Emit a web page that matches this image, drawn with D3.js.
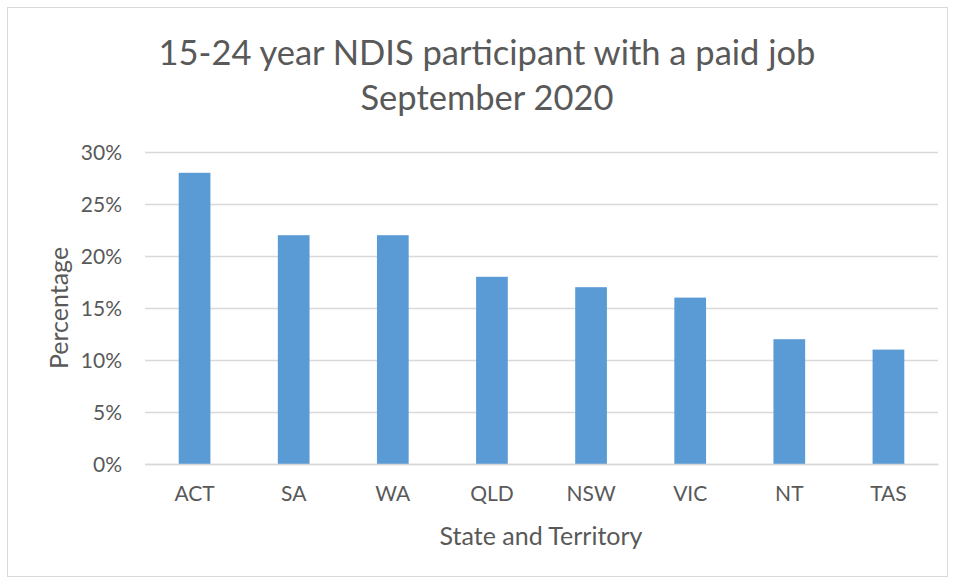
<!DOCTYPE html>
<html>
<head>
<meta charset="utf-8">
<script src="https://cdn.jsdelivr.net/npm/d3@7"></script>
<style>
  body { margin: 0; background: #fff; }
  text { font-family: Lato, "Open Sans", sans-serif; fill: #595959; }
</style>
</head>
<body>
<div id="chart"></div>
<script>
const states = ["ACT", "SA", "WA", "QLD", "NSW", "VIC", "NT", "TAS"];
const paidJob = [0.28, 0.22, 0.22, 0.18, 0.17, 0.16, 0.12, 0.11];
const yTicks = [0, 0.05, 0.10, 0.15, 0.20, 0.25, 0.30];
const titleLines = ["15-24 year NDIS participant with a paid job", "September 2020"];

const width = 955;
const height = 579;
const margin = { top: 152, right: 17, bottom: 115, left: 145 };

const svg = d3.select("#chart")
    .append("svg")
    .attr("width", width)
    .attr("height", height);

// chart frame
svg.append("rect")
    .attr("x", 7.5).attr("y", 7.5)
    .attr("width", 940).attr("height", 569)
    .attr("fill", "#fff")
    .attr("stroke", "#d9d9d9");

const x = d3.scaleBand()
    .domain(states)
    .range([margin.left, width - margin.right])
    .paddingInner(0.68)
    .paddingOuter(0.34);

const y = d3.scaleLinear()
    .domain([0, 0.30])
    .range([height - margin.bottom, margin.top]);

// gridlines
svg.append("g")
    .selectAll("line")
    .data(yTicks)
    .enter().append("line")
    .attr("x1", margin.left)
    .attr("x2", width - margin.right)
    .attr("y1", d => Math.round(y(d)) + 0.5)
    .attr("y2", d => Math.round(y(d)) + 0.5)
    .attr("stroke", "#d9d9d9")
    .attr("stroke-width", 1.3);

svg.append("g")
    .selectAll("rect")
    .data(states)
    .enter().append("rect")
    .attr("x", d => x(d))
    .attr("width", x.bandwidth())
    .attr("y", (d, i) => y(paidJob[i]))
    .attr("height", (d, i) => y(0) - y(paidJob[i]))
    .attr("fill", "#5b9bd5");

// y axis labels
const yAxis = svg.append("g")
    .attr("transform", `translate(${margin.left - 23},0)`)
    .call(d3.axisLeft(y).tickValues(yTicks).tickFormat(d3.format(".0%")).tickSize(0).tickPadding(0));
yAxis.select(".domain").remove();
yAxis.selectAll("text")
    .attr("font-size", 21)
    .attr("dy", "0.35em")
    .style("font-family", "Lato, sans-serif")
    .attr("fill", "#595959");

// x axis labels
const xAxis = svg.append("g")
    .attr("transform", `translate(0,${y(0)})`)
    .call(d3.axisBottom(x).tickSize(0).tickPadding(22));
xAxis.select(".domain").attr("stroke", "#d9d9d9").attr("stroke-width", 1.3);
xAxis.selectAll("text")
    .attr("font-size", 21)
    .style("font-family", "Lato, sans-serif")
    .attr("fill", "#595959");

svg.append("text")
    .attr("transform", "translate(68,308) rotate(-90)")
    .attr("text-anchor", "middle")
    .attr("font-size", 25)
    .text("Percentage");

svg.append("text")
    .attr("x", 541).attr("y", 545)
    .attr("text-anchor", "middle")
    .attr("font-size", 25)
    .text("State and Territory");

svg.append("g")
    .selectAll("text")
    .data(titleLines)
    .enter().append("text")
    .attr("x", 487)
    .attr("y", (d, i) => 65 + i * 45)
    .attr("text-anchor", "middle")
    .attr("font-size", 34.5)
    .text(d => d);
</script>
</body>
</html>
